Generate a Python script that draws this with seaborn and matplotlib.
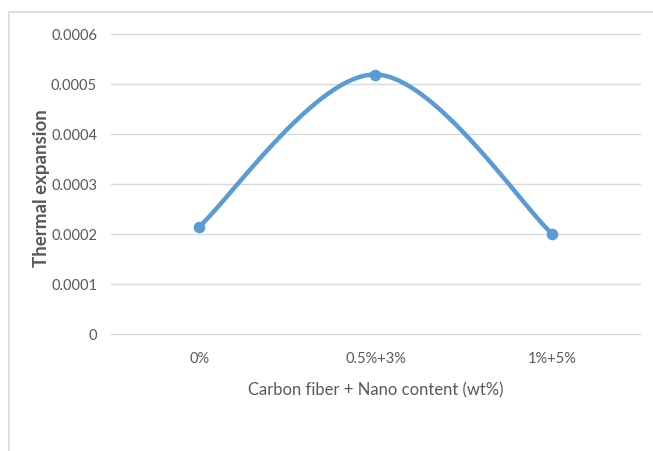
import numpy as np
import pandas as pd
import matplotlib
matplotlib.use("Agg")
import matplotlib.pyplot as plt
import seaborn as sns
from matplotlib.patches import Rectangle

categories = ["0%", "0.5%+3%", "1%+5%"]
expansion = [0.000215, 0.000519, 0.000201]
y_ticks = [0, 0.0001, 0.0002, 0.0003, 0.0004, 0.0005, 0.0006]
y_tick_labels = ["0", "0.0001", "0.0002", "0.0003", "0.0004", "0.0005", "0.0006"]

LINE_BLUE = "#5B9BD5"
TEXT_GRAY = "#595959"
GRID_GRAY = "#D9D9D9"


def smooth_curve(xs, ys, n=60):
    """Bezier smoothing through the points (spreadsheet-style smoothed line)."""
    xs = np.asarray(xs, float)
    ys = np.asarray(ys, float)
    px = np.concatenate([[xs[0]], xs, [xs[-1]]])
    py = np.concatenate([[ys[0]], ys, [ys[-1]]])
    out_x, out_y = [], []
    t = np.linspace(0, 1, n)
    for i in range(len(xs) - 1):
        p0x, p0y = px[i + 1], py[i + 1]
        p3x, p3y = px[i + 2], py[i + 2]
        c1x = p0x + (px[i + 2] - px[i]) / 6
        c1y = p0y + (py[i + 2] - py[i]) / 6
        c2x = p3x - (px[i + 3] - px[i + 1]) / 6
        c2y = p3y - (py[i + 3] - py[i + 1]) / 6
        bx = (1 - t) ** 3 * p0x + 3 * (1 - t) ** 2 * t * c1x + 3 * (1 - t) * t ** 2 * c2x + t ** 3 * p3x
        by = (1 - t) ** 3 * p0y + 3 * (1 - t) ** 2 * t * c1y + 3 * (1 - t) * t ** 2 * c2y + t ** 3 * p3y
        out_x.extend(bx if i == 0 else bx[1:])
        out_y.extend(by if i == 0 else by[1:])
    return np.array(out_x), np.array(out_y)


sns.set_theme(style="white")
plt.rcParams["font.family"] = ["Lato", "DejaVu Sans"]

fig = plt.figure(figsize=(6.53, 4.52), dpi=100)
ax = fig.add_axes([111 / 653, 1 - 335 / 452, (640 - 111) / 653, 300 / 452])

xpos = np.arange(len(categories))
pts = pd.DataFrame({"x": xpos, "y": expansion})
cx, cy = smooth_curve(xpos, expansion)
curve = pd.DataFrame({"x": cx, "y": cy})

sns.lineplot(data=curve, x="x", y="y", ax=ax, color=LINE_BLUE, linewidth=3.2,
             sort=False, estimator=None, zorder=3)
sns.scatterplot(data=pts, x="x", y="y", ax=ax, color=LINE_BLUE, s=70,
                edgecolor=LINE_BLUE, linewidth=0, zorder=4)

ax.set_xlim(-0.5, len(categories) - 0.5)
ax.set_ylim(0, 0.0006)
ax.set_yticks(y_ticks)
ax.set_yticklabels(y_tick_labels)
ax.set_xticks(xpos)
ax.set_xticklabels(categories)
ax.grid(axis="y", color=GRID_GRAY, linewidth=1.0)
ax.grid(axis="x", visible=False)
for gl in ax.get_ygridlines():
    gl.set_clip_on(False)
for s in ax.spines.values():
    s.set_visible(False)
ax.tick_params(axis="both", length=0, labelsize=10.5, colors=TEXT_GRAY)
ax.tick_params(axis="y", pad=10)
ax.tick_params(axis="x", pad=12)

ax.set_xlabel("Carbon fiber + Nano content (wt%)", fontsize=12, color=TEXT_GRAY, labelpad=12)
ax.set_ylabel("")
fig.text(42 / 653, 1 - 188 / 452, "Thermal expansion", rotation=90, fontsize=13.5,
         fontweight="bold", color=TEXT_GRAY, ha="center", va="center")

# chart-area frame
fig.patches.append(Rectangle((8.5 / 653, -0.05), 1.1, 1 - 12.5 / 452 + 0.05,
                             transform=fig.transFigure, fill=False,
                             edgecolor="#D9D9D9", linewidth=1.2))

fig.savefig("out.png", dpi=100)
